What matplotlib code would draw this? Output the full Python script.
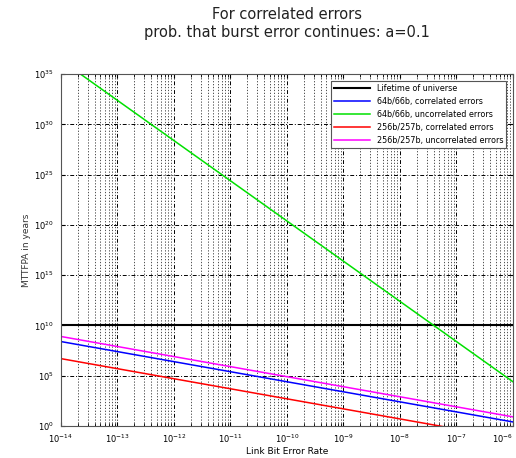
import numpy as np
import matplotlib.pyplot as plt

# link bit error rate, one point per decade
ber = [1e-14, 1e-13, 1e-12, 1e-11, 1e-10, 1e-9, 1e-8, 1e-7, 1e-6]

# MTTFPA in years
life = [1e10, 1e10, 1e10, 1e10, 1e10, 1e10, 1e10, 1e10, 1e10]
b64_corr = [2.5e8, 2.5e7, 2.5e6, 2.5e5, 2.5e4, 2.5e3, 2.5e2, 2.5e1, 2.5e0]
b64_unc = [2.5e36, 2.5e32, 2.5e28, 2.5e24, 2.5e20, 2.5e16, 2.5e12, 2.5e8, 2.5e4]
b256_corr = [5e6, 5e5, 5e4, 5e3, 5e2, 5e1, 5e0, 5e-1, 5e-2]
b256_unc = [8e8, 8e7, 8e6, 8e5, 8e4, 8e3, 8e2, 8e1, 8e0]

labels = ['Lifetime of universe', '64b/66b, correlated errors',
          '64b/66b, uncorrelated errors', '256b/257b, correlated errors',
          '256b/257b, uncorrelated errors']
colours = ['black', 'blue', '#00e000', 'red', 'magenta']
series = [life, b64_corr, b64_unc, b256_corr, b256_unc]

fig = plt.figure(figsize=(5.16, 4.58), dpi=100)
ax = fig.add_axes([0.118, 0.070, 0.876, 0.768])

for i in range(len(series)):
    ax.plot(ber, series[i], color=colours[i], lw=1.5 if i == 0 else 1.1,
            label=labels[i])

ax.set_xscale('log')
ax.set_yscale('log')
ax.set_xlim(1e-14, 1e-6)
ax.set_ylim(1e0, 1e35)

ax.set_xticks(ber)
ax.set_xticklabels(['$10^{%d}$' % e for e in range(-14, -5)])
# last label would run off the figure, pull it inside
ax.get_xticklabels()[-1].set_horizontalalignment('right')
yt = [10.0**e for e in range(0, 36, 5)]
ax.set_yticks(yt)
ax.set_yticklabels(['$10^{%d}$' % e for e in range(0, 36, 5)])
ax.yaxis.set_minor_locator(plt.NullLocator())
ax.tick_params(labelsize=6, length=3, direction='in', top=True, right=True,
               pad=5)
ax.tick_params(which='minor', length=2, direction='in', top=True)

ax.grid(which='major', color='black', ls=(0, (4, 2, 1, 2)), lw=0.7)
ax.grid(which='minor', axis='x', color='#333333', ls=(0, (1.5, 2)), lw=0.6)
for s in ax.spines.values():
    s.set_color('#555555')

ax.set_xlabel('Link Bit Error Rate', fontsize=6.5, labelpad=1)
ax.set_ylabel('MTTFPA in years', fontsize=6.5, color='#333333', labelpad=2)
ax.set_title('For correlated errors\nprob. that burst error continues: a=0.1',
             fontsize=10.5, pad=27, color='#222222')

leg = ax.legend(loc='upper right', fontsize=5.8, fancybox=False,
                framealpha=1, edgecolor='#555555', handlelength=4.5,
                borderaxespad=0.8, labelspacing=0.5)
leg.get_frame().set_linewidth(0.8)

plt.savefig('out.png', dpi=100)
